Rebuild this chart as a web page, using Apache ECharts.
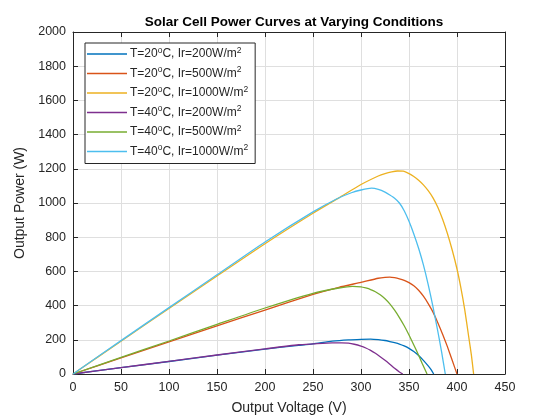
<!DOCTYPE html>
<html>
<head>
<meta charset="utf-8">
<script src="https://cdn.jsdelivr.net/npm/echarts@6.0.0/dist/echarts.min.js"></script>
<style>
  html, body { margin: 0; padding: 0; background: #fff; }
  #chart { width: 560px; height: 420px; }
</style>
</head>
<body>
<div id="chart"></div>
<script>
// series labels (temperature, irradiance)
const temps = [20, 20, 20, 40, 40, 40];
const irrs = [200, 500, 1000, 200, 500, 1000];

// voltage (V) / power (W) points
const v20_200 = [0, 50, 100, 150, 200, 235, 250, 270, 287, 300, 310, 318, 325, 330, 335, 340, 345, 350, 355, 360, 365, 370, 373, 375.7];
const p20_200 = [0, 37, 73, 110, 146, 167, 176, 192, 200, 203, 204, 201, 196, 190, 183, 175, 164, 150, 131, 108, 80, 47, 25, 0];

const v20_500 = [0, 50, 100, 150, 200, 250, 277, 300, 318, 325, 330, 335, 340, 345, 350, 355, 360, 365, 370, 375, 380, 385, 390, 395, 400];
const p20_500 = [0, 94, 188, 281, 374, 465, 507, 536, 560, 565, 566, 563, 557, 548, 534, 516, 490, 455, 412, 362, 300, 233, 160, 80, 0];

const v20_1000 = [0, 50, 100, 150, 200, 250, 277, 300, 318, 325, 332, 338, 344, 350, 355, 360, 365, 370, 375, 380, 385, 390, 395, 400, 404, 408, 412, 415, 417.3];
const p20_1000 = [0, 192, 383, 573, 762, 940, 1030, 1108, 1158, 1172, 1182, 1187, 1186, 1172, 1155, 1133, 1106, 1072, 1030, 975, 905, 822, 725, 614, 505, 378, 225, 110, 0];

const v40_200 = [0, 50, 100, 150, 200, 235, 250, 270, 280, 287, 293, 300, 305, 310, 315, 320, 325, 330, 335, 340, 343.5];
const p40_200 = [0, 37, 74, 111, 147, 171, 176, 182, 182, 180, 174, 163, 152, 138, 121, 101, 80, 57, 33, 12, 0];

const v40_500 = [0, 50, 100, 150, 200, 250, 277, 291, 300, 305, 310, 315, 320, 325, 330, 335, 340, 345, 350, 355, 360, 364, 368.8];
const p40_500 = [0, 97, 193, 290, 386, 472, 503, 513, 510, 503, 494, 481, 463, 440, 410, 373, 330, 282, 228, 170, 110, 58, 0];

const v40_1000 = [0, 50, 100, 150, 200, 250, 275, 290, 300, 311, 318, 325, 330, 335, 340, 345, 350, 355, 360, 365, 370, 375, 380, 384, 387.8];
const p40_1000 = [0, 195, 388, 580, 772, 948, 1025, 1060, 1076, 1087, 1080, 1064, 1047, 1028, 1000, 955, 893, 819, 735, 638, 523, 393, 250, 128, 0];

const voltages = [v20_200, v20_500, v20_1000, v40_200, v40_500, v40_1000];
const powers = [p20_200, p20_500, p20_1000, p40_200, p40_500, p40_1000];
const colors = ['#0072BD', '#D95319', '#EDB120', '#7E2F8E', '#77AC30', '#4DBEEE'];

const FONT = 'Liberation Sans, Arial, Helvetica, sans-serif';
const INK = '#262626';

const chart = echarts.init(document.getElementById('chart'), null, { renderer: 'canvas' });

const names = temps.map((t, i) => 'T=' + t + 'C, Ir=' + irrs[i]);

const series = names.map((name, i) => ({
  name: name,
  type: 'line',
  xAxisIndex: 0,
  yAxisIndex: 0,
  symbol: 'none',
  smooth: 0.2,
  color: colors[i],
  lineStyle: { width: 1.3, color: colors[i] },
  data: voltages[i].map((v, k) => [v, powers[i][k]])
}));

const baseAxis = {
  type: 'value',
  axisLine: { show: true, onZero: false, lineStyle: { color: INK, width: 1 } },
  axisTick: { show: true, inside: true, length: 5, lineStyle: { color: INK } }
};

const plain = v => String(v);

const option = {
  animation: false,
  backgroundColor: '#fff',
  textStyle: { fontFamily: FONT },
  title: {
    text: 'Solar Cell Power Curves at Varying Conditions',
    left: 289,
    top: 10,
    textAlign: 'center',
    textStyle: { fontFamily: FONT, fontSize: 13.5, fontWeight: 'bold', color: '#000' }
  },
  grid: { left: 73, right: 55, top: 32, bottom: 46, containLabel: false },
  legend: {
    orient: 'vertical',
    left: 85,
    top: 43,
    padding: [2, 7, 3, 2],
    itemGap: 1.5,
    itemWidth: 40,
    itemHeight: 1.5,
    icon: 'rect',
    backgroundColor: '#fff',
    borderColor: INK,
    borderWidth: 1,
    borderRadius: 0,
    data: names,
    formatter: function (name) {
      const i = names.indexOf(name);
      return 'T=' + temps[i] + '{sup|o}C, Ir=' + irrs[i] + 'W/m{sup|2}';
    },
    textStyle: {
      fontFamily: FONT,
      fontSize: 12,
      color: INK,
      lineHeight: 18,
      padding: [0, 0, 0, -2],
      rich: {
        sup: { fontFamily: FONT, fontSize: 8.5, color: INK, verticalAlign: 'top', lineHeight: 10, padding: [1, 0, 0, 0] }
      }
    }
  },
  xAxis: [
    Object.assign({}, baseAxis, {
      position: 'bottom',
      min: 0, max: 450, interval: 50,
      axisLabel: { color: INK, fontSize: 12.5, margin: 7, fontFamily: FONT, formatter: plain },
      splitLine: { show: true, lineStyle: { color: '#dfdfdf', width: 1 } },
      name: 'Output Voltage (V)',
      nameLocation: 'middle',
      nameGap: 27,
      nameTextStyle: { fontFamily: FONT, fontSize: 14, color: INK }
    }),
    Object.assign({}, baseAxis, {
      position: 'top',
      min: 0, max: 450, interval: 50,
      axisLabel: { show: false },
      splitLine: { show: false }
    })
  ],
  yAxis: [
    Object.assign({}, baseAxis, {
      position: 'left',
      min: 0, max: 2000, interval: 200,
      axisLabel: { color: INK, fontSize: 12.5, margin: 7, fontFamily: FONT, formatter: plain },
      splitLine: { show: true, lineStyle: { color: '#dfdfdf', width: 1 } },
      name: 'Output Power (W)',
      nameLocation: 'middle',
      nameGap: 40,
      nameTextStyle: { fontFamily: FONT, fontSize: 14, color: INK }
    }),
    Object.assign({}, baseAxis, {
      position: 'right',
      min: 0, max: 2000, interval: 200,
      axisLabel: { show: false },
      splitLine: { show: false }
    })
  ],
  series: series
};

chart.setOption(option);
</script>
</body>
</html>
